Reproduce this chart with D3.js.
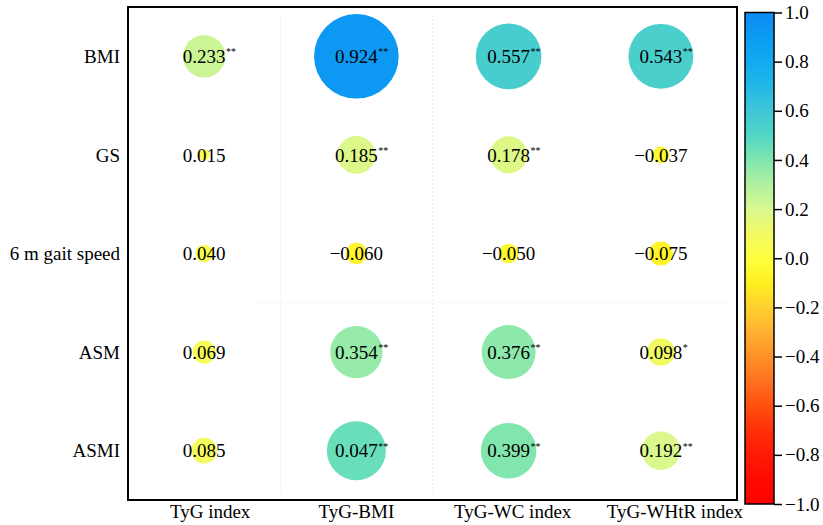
<!DOCTYPE html>
<html>
<head>
<meta charset="utf-8">
<script src="https://cdn.jsdelivr.net/npm/d3@7/dist/d3.min.js"></script>
<style>
    body { margin: 0; background: #fff; }
    svg { display: block; }
    svg text { font-family: "Liberation Serif", "Times New Roman", serif !important; }
    .cell-text { font-size: 19px; fill: #000; }
    .stars { font-size: 10px; fill: #000; }
    .row-label, .col-label { font-size: 19px; fill: #000; }
    .cbar .tick text { font-size: 19px; fill: #000; }
    .grid line { stroke: #ececec; stroke-width: 1; stroke-dasharray: 2 2; }
</style>
</head>
<body>
<div id="chart"></div>
<script>
// 行 / 列
const rows = ['BMI', 'GS', '6 m gait speed', 'ASM', 'ASMI'];
const cols = ['TyG index', 'TyG-BMI', 'TyG-WC index', 'TyG-WHtR index'];

// printed coefficients (as shown in each cell)
const printed = [
    ['0.233', '0.924', '0.557', '0.543'],
    ['0.015', '0.185', '0.178', '−0.037'],
    ['0.040', '−0.060', '−0.050', '−0.075'],
    ['0.069', '0.354', '0.376', '0.098'],
    ['0.085', '0.047', '0.399', '0.192']
];
// values behind the circles (ASMI / TyG-BMI circle is drawn much larger than its label)
const coef = [
    [0.233, 0.924, 0.557, 0.543],
    [0.015, 0.185, 0.178, -0.037],
    [0.040, -0.060, -0.050, -0.075],
    [0.069, 0.354, 0.376, 0.098],
    [0.085, 0.45, 0.399, 0.192]
];
const stars = [
    ['**', '**', '**', '**'],
    ['', '**', '**', ''],
    ['', '', '', ''],
    ['', '**', '**', '*'],
    ['', '**', '**', '**']
];

const colorStops = [-1, -0.9, -0.8, -0.7, -0.6, -0.5, -0.4, -0.3, -0.2, -0.1, 0, 0.1, 0.2, 0.3, 0.4, 0.5, 0.6, 0.7, 0.8, 0.9, 1];
const colorRange = ['#ff0000', '#ff0a00', '#ff1a05', '#ff3008', '#ff5010', '#ff7020', '#ff9028', '#ffb030',
    '#ffd030', '#fff020', '#ffff40', '#f2fa62', '#d8f890', '#b0f0a0', '#80e6ae', '#52d6c6', '#40c6d6',
    '#22b8e6', '#12aaf0', '#0c9cf2', '#0a8cf5'];
const cbarTicks = [-1, -0.8, -0.6, -0.4, -0.2, 0, 0.2, 0.4, 0.6, 0.8, 1];

// layout
const W = 823, H = 525;
const plot = { left: 128, top: 7, right: 737, bottom: 500 };
const cbar = { left: 745, right: 774, top: 12.5, bottom: 504 };
const colLabelNudge = [6, 0, 4, 14];
const rMax = 44;

const svg = d3.select('#chart').append('svg')
    .attr('width', W)
    .attr('height', H);

const x = d3.scaleBand().domain(cols).range([plot.left, plot.right]);
const y = d3.scaleBand().domain(rows).range([plot.top, plot.bottom]);
const r = d3.scaleSqrt().domain([0, 1]).range([0, rMax]);
const color = d3.scaleLinear().domain(colorStops).range(colorRange).interpolate(d3.interpolateRgb);

// faint grid lines
const grid = svg.append('g').attr('class', 'grid');
[1, 2].forEach(i => {
    grid.append('line')
        .attr('x1', x(cols[i])).attr('x2', x(cols[i]))
        .attr('y1', plot.top + 8).attr('y2', plot.bottom - 5);
});
grid.append('line')
    .attr('x1', x(cols[1]) - 22).attr('x2', plot.right - 12)
    .attr('y1', y(rows[3])).attr('y2', y(rows[3]));

// cells
const cells = [];
rows.forEach((rn, i) => cols.forEach((cn, j) => {
    cells.push({ row: rn, col: cn, v: coef[i][j], txt: printed[i][j], s: stars[i][j] });
}));

const cellG = svg.append('g');
const cell = cellG.selectAll('.cell')
    .data(cells)
    .enter()
    .append('g')
    .attr('class', 'cell')
    .attr('transform', d => `translate(${x(d.col) + x.bandwidth() / 2},${y(d.row) + y.bandwidth() / 2})`);

cell.append('circle')
    .attr('r', d => r(Math.abs(d.v)))
    .attr('fill', d => color(d.v));

cell.append('text')
    .attr('class', 'cell-text')
    .attr('text-anchor', 'middle')
    .attr('dy', '0.35em')
    .text(d => d.txt)
    .each(function (d) { d.w = this.getComputedTextLength(); });

cell.append('text')
    .attr('class', 'stars')
    .attr('x', d => d.w / 2 + 0.5)
    .attr('y', -1)
    .text(d => d.s);

// frame
svg.append('rect')
    .attr('x', plot.left).attr('y', plot.top)
    .attr('width', plot.right - plot.left)
    .attr('height', plot.bottom - plot.top)
    .attr('fill', 'none')
    .attr('stroke', '#000')
    .attr('stroke-width', 2);

// row labels
svg.append('g').selectAll('text')
    .data(rows)
    .enter()
    .append('text')
    .attr('class', 'row-label')
    .attr('text-anchor', 'end')
    .attr('x', plot.left - 8)
    .attr('y', d => y(d) + y.bandwidth() / 2)
    .attr('dy', '0.35em')
    .text(d => d);

// column labels
svg.append('g').selectAll('text')
    .data(cols)
    .enter()
    .append('text')
    .attr('class', 'col-label')
    .attr('text-anchor', 'middle')
    .attr('x', (d, i) => x(d) + x.bandwidth() / 2 + colLabelNudge[i])
    .attr('y', 518)
    .text(d => d);

// colour bar
const cy = d3.scaleLinear().domain([-1, 1]).range([cbar.bottom, cbar.top]);
const grad = svg.append('defs').append('linearGradient')
    .attr('id', 'cbar-grad')
    .attr('x1', '0%').attr('x2', '0%')
    .attr('y1', '100%').attr('y2', '0%');
grad.selectAll('stop')
    .data(colorStops)
    .enter()
    .append('stop')
    .attr('offset', d => `${(d + 1) * 50}%`)
    .attr('stop-color', d => color(d));

svg.append('rect')
    .attr('x', cbar.left).attr('y', cbar.top)
    .attr('width', cbar.right - cbar.left)
    .attr('height', cbar.bottom - cbar.top)
    .attr('fill', 'url(#cbar-grad)')
    .attr('stroke', '#000')
    .attr('stroke-width', 1.5);

const cAxis = svg.append('g')
    .attr('class', 'cbar')
    .attr('transform', `translate(${cbar.right},0)`)
    .call(d3.axisRight(cy).tickValues(cbarTicks).tickFormat(d3.format('.1f')).tickSize(8).tickPadding(3));
cAxis.select('.domain').remove();
cAxis.selectAll('.tick line').attr('stroke', '#000').attr('stroke-width', 1.5);
</script>
</body>
</html>
